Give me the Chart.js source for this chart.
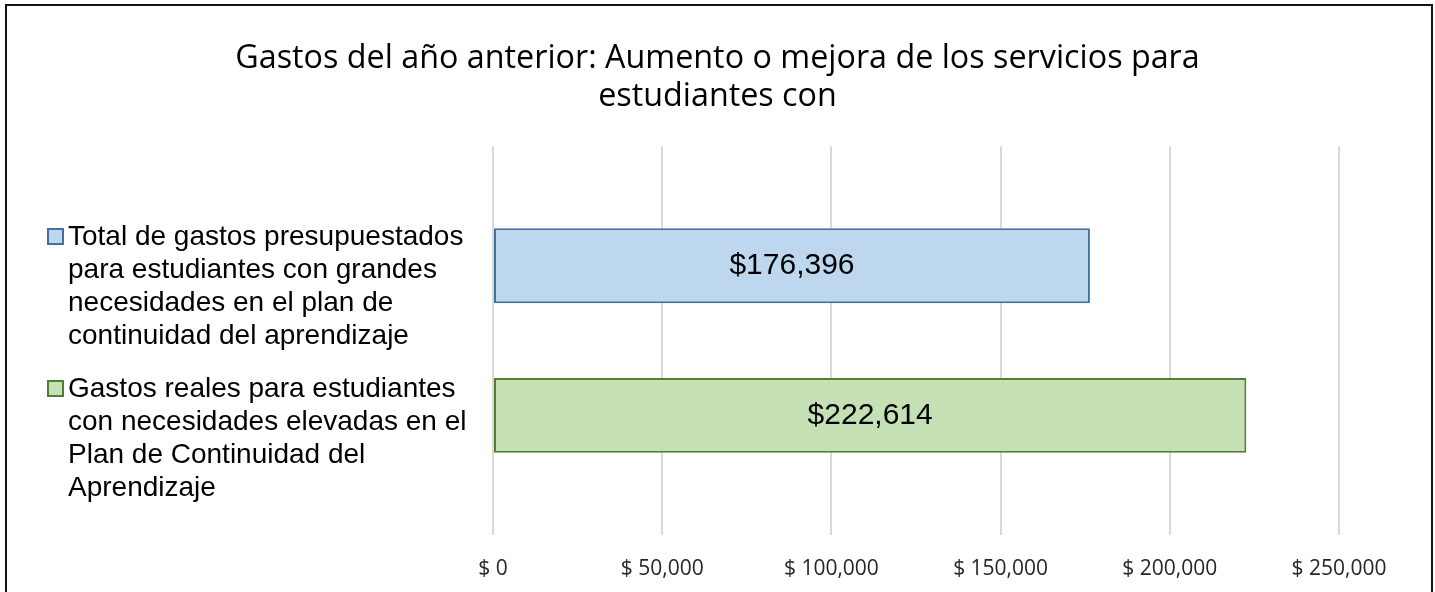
<!DOCTYPE html>
<html>
<head>
<meta charset="utf-8">
<script src="https://cdn.jsdelivr.net/npm/chart.js@4"></script>
<style>
  html, body { margin: 0; padding: 0; background: #fff; overflow: hidden; }
  #frame {
    position: absolute; left: 5px; top: 4px; width: 1428px; height: 700px;
    box-sizing: border-box; border: 2px solid #111; pointer-events: none;
  }
  #chart { position: absolute; left: 0; top: 0; }
</style>
</head>
<body>
<canvas id="chart" width="1435" height="592"></canvas>
<div id="frame"></div>
<script>
const titleLines = [
    "Gastos del año anterior: Aumento o mejora de los servicios para",
    "estudiantes con"
];
const seriesNames = [
    ["Total de gastos presupuestados", "para estudiantes con grandes", "necesidades en el plan de", "continuidad del aprendizaje"],
    ["Gastos reales para estudiantes", "con necesidades elevadas en el", "Plan de Continuidad del", "Aprendizaje"]
];
const budgeted = [176396];
const actual = [222614];
const tickValues = [0, 50000, 100000, 150000, 200000, 250000];

const fillColors = ['#BDD7EE', '#C5E0B4'];
const lineColors = ['#41719C', '#507E32'];

const money = v => '$' + v.toLocaleString('en-US');

// values printed in the middle of each bar
const barLabels = {
    id: 'barLabels',
    afterDatasetsDraw(chart) {
        const ctx = chart.ctx;
        ctx.save();
        ctx.font = '30px "Liberation Sans", Arial, sans-serif';
        ctx.fillStyle = '#000';
        ctx.textAlign = 'center';
        ctx.textBaseline = 'middle';
        chart.data.datasets.forEach((ds, i) => {
            chart.getDatasetMeta(i).data.forEach((bar, j) => {
                ctx.fillText(money(ds.data[j]), (bar.base + bar.x) / 2, bar.y);
            });
        });
        ctx.restore();
    }
};

// multi-line legend on the left side
const sideLegend = {
    id: 'sideLegend',
    afterDraw(chart) {
        const ctx = chart.ctx;
        const tops = [237, 389];
        ctx.save();
        ctx.font = '28px "Liberation Sans", Arial, sans-serif';
        ctx.textBaseline = 'middle';
        ctx.textAlign = 'left';
        seriesNames.forEach((lines, i) => {
            ctx.fillStyle = fillColors[i];
            ctx.strokeStyle = lineColors[i];
            ctx.lineWidth = 2;
            ctx.fillRect(48, tops[i] - 8, 15, 15);
            ctx.strokeRect(48, tops[i] - 8, 15, 15);
            ctx.fillStyle = '#000';
            lines.forEach((line, k) => ctx.fillText(line, 68, tops[i] + k * 33));
        });
        ctx.restore();
    }
};

new Chart(document.getElementById('chart'), {
    type: 'bar',
    data: {
        labels: [''],
        datasets: [
            {
                label: seriesNames[0].join(' '),
                data: budgeted,
                backgroundColor: fillColors[0],
                borderColor: lineColors[0],
                borderWidth: 2,
                borderSkipped: false,
                categoryPercentage: 0.77,
                barPercentage: 0.5
            },
            {
                label: seriesNames[1].join(' '),
                data: actual,
                backgroundColor: fillColors[1],
                borderColor: lineColors[1],
                borderWidth: 2,
                borderSkipped: false,
                categoryPercentage: 0.77,
                barPercentage: 0.5
            }
        ]
    },
    options: {
        indexAxis: 'y',
        responsive: false,
        animation: false,
        layout: { padding: { left: 96, right: 96, top: 0, bottom: 12 } },
        scales: {
            x: {
                min: 0,
                max: 250000,
                afterBuildTicks: scale => { scale.ticks = tickValues.map(v => ({ value: v })); },
                afterFit: scale => { scale.height = 45; },
                grid: { color: '#d9d9d9', lineWidth: 2, drawTicks: false },
                border: { display: false },
                ticks: {
                    padding: 21,
                    color: '#262626',
                    font: { family: '"Open Sans", sans-serif', size: 21 },
                    callback: v => '$ ' + v.toLocaleString('en-US')
                }
            },
            y: {
                grid: { display: false },
                border: { display: false },
                ticks: { display: false },
                afterFit: scale => { scale.width = 397; }
            }
        },
        plugins: {
            legend: { display: false },
            tooltip: { enabled: false },
            title: {
                display: true,
                text: titleLines,
                color: '#000',
                font: { family: '"Open Sans", sans-serif', size: 32.3, weight: 'normal', lineHeight: 1.18 },
                padding: { top: 40, bottom: 30 }
            }
        }
    },
    plugins: [barLabels, sideLegend]
});
</script>
</body>
</html>
